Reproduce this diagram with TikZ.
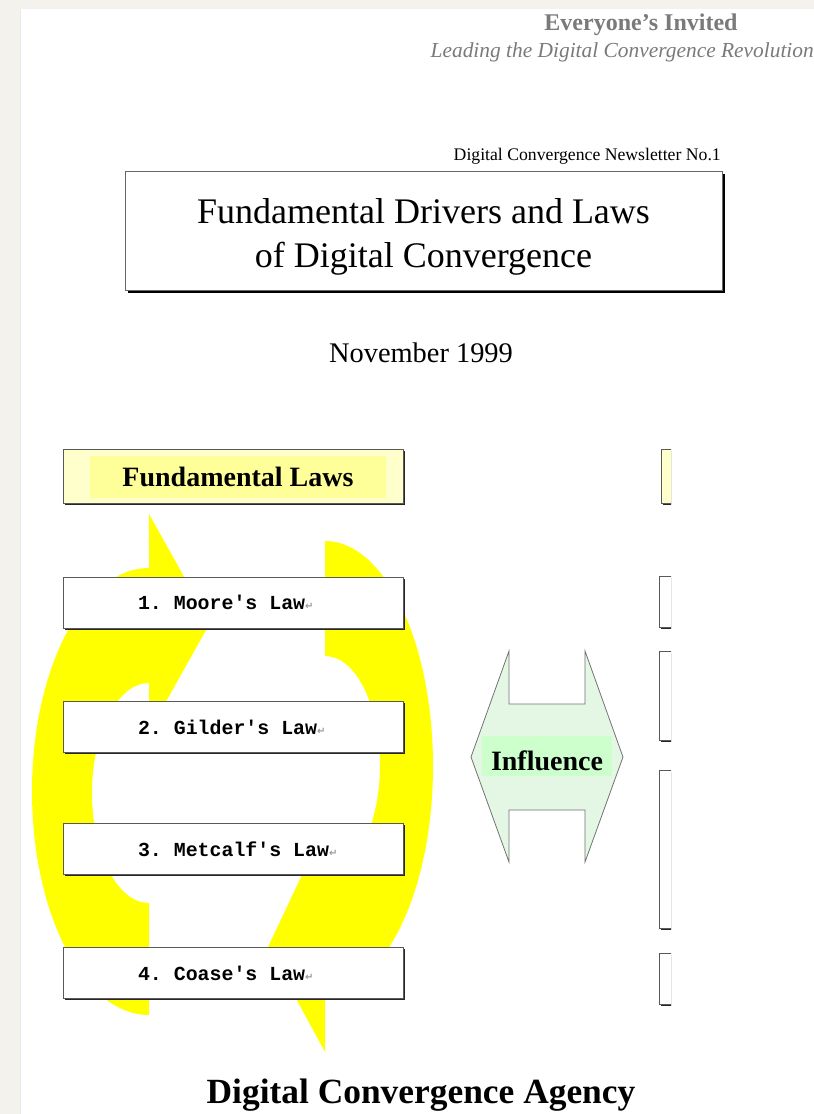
\documentclass[tikz,border=0pt]{standalone}
\usepackage{fontspec}
\setmainfont{Liberation Serif}
\setmonofont{Liberation Mono}
\newfontfamily\symfont{DejaVu Sans}
\usepackage{xcolor}
\usetikzlibrary{positioning, shadows}

\definecolor{pagegray}{HTML}{F4F2ED}
\definecolor{headgray}{HTML}{7A7A7A}
\definecolor{paleyellow}{HTML}{FFFFCC}
\definecolor{lawyellow}{HTML}{FFFF99}
\definecolor{arrowyellow}{HTML}{FFFF00}
\definecolor{palegreen}{HTML}{E4F7E4}
\definecolor{lightgreen}{HTML}{CCFFCC}

\newcommand{\lawtext}[1]{\makebox[190pt][l]{#1{\symfont\fontsize{10}{10}\selectfont\color{black!40}↵}}}

\tikzset{
  boxshadow/.style={drop shadow={shadow xshift=1.5pt, shadow yshift=-1.5pt, fill=black!85, opacity=1}},
  lawbox/.style={draw=black!65, line width=0.8pt, fill=white, boxshadow,
    minimum width=340pt, minimum height=51pt, inner xsep=0pt,
    font=\ttfamily\bfseries\fontsize{19.9}{21}\selectfont},
  sidebox/.style={draw=black!65, line width=0.8pt, fill=white, boxshadow, minimum width=340pt, anchor=west}
}

\begin{document}
\begin{tikzpicture}[x=1pt, y=-1pt]
  \useasboundingbox (0,0) rectangle (814,1114);
  \fill[pagegray] (0,0) rectangle (814,1114);
  \fill[white] (21,9) rectangle (814,1114);
  \draw[black!8] (20.5,9) -- (20.5,1114);

  \node[anchor=base, font=\bfseries\fontsize{24}{24}\selectfont, text=headgray] (invited) at (641,30) {Everyone’s Invited};
  \node[anchor=base east, inner xsep=0pt, font=\itshape\fontsize{21.4}{22}\selectfont, text=headgray] (tagline) at (814,57) {Leading the Digital Convergence Revolution};

  \node[anchor=base east, inner xsep=0pt, font=\fontsize{17.7}{18}\selectfont] (issue) at (721,160) {Digital Convergence Newsletter No.1};
  \node[draw=black!60, fill=white, minimum width=597pt, minimum height=119pt,
    drop shadow={shadow xshift=3pt, shadow yshift=-3pt, fill=black, opacity=1}] (title) at (423.5,230.5) {};
  \node[align=center, font=\fontsize{36}{44}\selectfont] (titletext) at (423.5,237)
    {Fundamental Drivers and Laws\\of Digital Convergence};
  \node[anchor=base, font=\fontsize{28.4}{30}\selectfont] (date) at (421,362) {November 1999};

  \fill[arrowyellow] (149,1015) arc[start angle=90, end angle=270, x radius=117, y radius=223.5]
    -- (149,514) -- (210,623) -- (149,732) -- (149,683)
    arc[start angle=270, end angle=90, x radius=57, y radius=110] -- cycle;
  \fill[arrowyellow] (325,541) arc[start angle=-90, end angle=90, x radius=108, y radius=225]
    -- (325,1052) -- (268,947) -- (325,826) -- (325,874)
    arc[start angle=90, end angle=-90, x radius=55, y radius=109] -- cycle;

  \node[draw=black!65, line width=0.8pt, fill=paleyellow, boxshadow, minimum width=340pt, minimum height=54pt] (lawhead) at (233,476) {};
  \node[fill=lawyellow, minimum width=296pt, minimum height=42pt, font=\bfseries\fontsize{28}{28}\selectfont] (headlabel) at (238,477) {Fundamental Laws};

  \node[lawbox] (moore) at (233,602.5) {\lawtext{1. Moore's Law}};
  \node[lawbox] (gilder) at (233,727) {\lawtext{2. Gilder's Law}};
  \node[lawbox] (metcalf) at (233,849) {\lawtext{3. Metcalf's Law}};
  \node[lawbox] (coase) at (233,973) {\lawtext{4. Coase's Law}};

  \filldraw[fill=palegreen, draw=black!55, line width=0.8pt]
    (509,651) -- (509,704) -- (585,704) -- (585,651) -- (623,757) -- (585,862)
    -- (585,810) -- (509,810) -- (509,862) -- (471,757) -- cycle;
  \node[fill=lightgreen, minimum width=130pt, minimum height=40pt, text depth=0pt, text height=28pt, inner ysep=2pt, font=\bfseries\fontsize{28}{28}\selectfont] (influence) at (547,756) {Influence};

  \begin{scope}
    \clip (600,400) rectangle (671,1060);
    \node[sidebox, fill=paleyellow, minimum height=54pt] (drivehead) at (661,476) {};
    \node[sidebox, minimum height=51pt] (drive1) at (659,601.5) {};
    \node[sidebox, minimum height=89pt] (drive2) at (659,695.5) {};
    \node[sidebox, minimum height=158pt] (drive3) at (659,849) {};
    \node[sidebox, minimum height=51pt] (drive4) at (659,978.5) {};
  \end{scope}

  \node[anchor=base, font=\bfseries\fontsize{35.4}{36}\selectfont] (agency) at (421,1103) {Digital Convergence Agency};
\end{tikzpicture}
\end{document}
